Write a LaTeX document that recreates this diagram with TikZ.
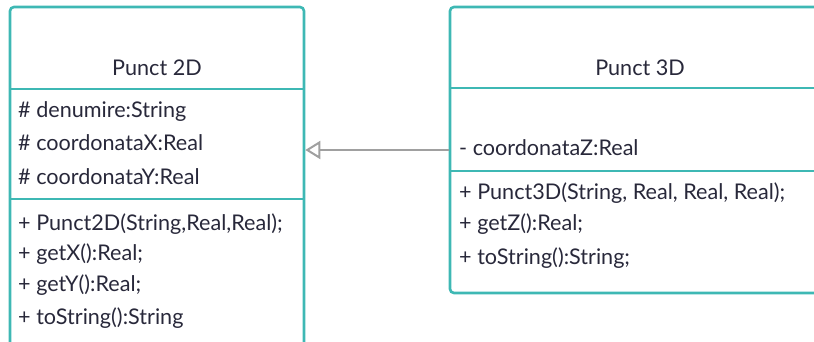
\documentclass[tikz,border=0pt]{standalone}
\usepackage{fontspec}
\setmainfont{Lato}
\usetikzlibrary{arrows.meta}
\definecolor{teal}{RGB}{62,184,180}
\definecolor{txt}{RGB}{40,40,58}
\definecolor{arr}{RGB}{160,160,160}
\begin{document}
\begin{tikzpicture}[x=1pt,y=-1pt,
  classbox/.style={draw=teal,line width=2.6pt,rounded corners=4pt,inner sep=0pt},
  divider/.style={draw=teal,line width=2.6pt},
  lbl/.style={anchor=west,inner sep=0pt,text=txt,font=\fontsize{21.6}{25}\selectfont},
  title/.style={inner sep=0pt,text=txt,font=\fontsize{21.6}{25}\selectfont},
  gen/.style={draw=arr,line width=2pt,-{Triangle[open,length=15pt,width=18pt,line width=2pt]}}]
\useasboundingbox (0,0) rectangle (814,341);
\clip (0,0) rectangle (814,341);
% left class
\node[classbox,minimum width=294pt,minimum height=343pt] (p2) at (157,178.5) {};
\draw[divider] (10,89) -- (304,89);
\draw[divider] (10,199) -- (304,199);
\node[title] (p2t) at (157,68) {Punct 2D};
\node[lbl] (a1) at (18,112) {\# denumire:String};
\node[lbl] (a2) at (18,143) {\# coordonataX:Real};
\node[lbl] (a3) at (18,177) {\# coordonataY:Real};
\node[lbl] (m1) at (18,224) {+ Punct2D(String,Real,Real);};
\node[lbl] (m2) at (18,254) {+ getX():Real;};
\node[lbl] (m3) at (18,285) {+ getY():Real;};
\node[lbl] (m4) at (18,318) {+ toString():String};
% right class
\node[classbox,minimum width=380pt,minimum height=286pt] (p3) at (640,150) {};
\draw[divider] (450,88) -- (830,88);
\draw[divider] (450,171) -- (830,171);
\node[title] (p3t) at (640,68) {Punct 3D};
\node[lbl] (b1) at (459,148) {- coordonataZ:Real};
\node[lbl] (n1) at (459,193) {+ Punct3D(String, Real, Real, Real);};
\node[lbl] (n2) at (459,224) {+ getZ():Real;};
\node[lbl] (n3) at (459,258) {+ toString():String;};
% generalisation
\coordinate (tip) at (p2.east |- p3.west);
\draw[gen] (p3.west) -- (tip);
\end{tikzpicture}
\end{document}
